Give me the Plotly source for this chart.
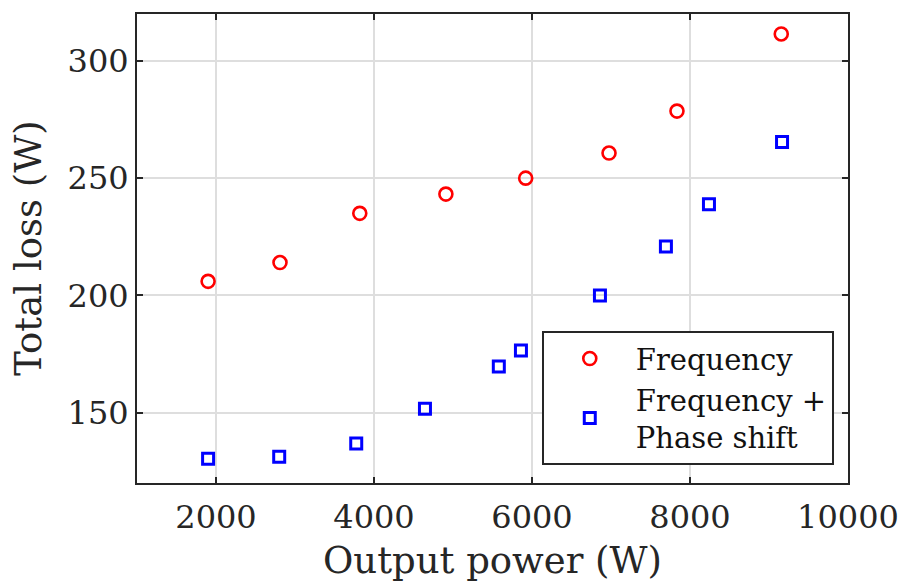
import plotly.graph_objects as go

freq_x = [1900, 2810, 3820, 4910, 5920, 6975, 7835, 9155]
freq_y = [206, 214, 235, 243.2, 250, 260.7, 278.6, 311.5]

fps_x = [1900, 2800, 3775, 4645, 5580, 5860, 6860, 7695, 8240, 9165]
fps_y = [130.3, 131.2, 136.8, 151.7, 169.7, 176.5, 200, 220.9, 238.9, 265.4]

x_ticks = [2000, 4000, 6000, 8000, 10000]
x_ticklabels = ["2000", "4000", "6000", "8000", "10000"]
y_ticks = [150, 200, 250, 300]

FONT = "DejaVu Serif"
AX = "#262626"

fig = go.Figure()
fig.add_trace(go.Scatter(
    x=freq_x, y=freq_y, mode="markers", name="Frequency",
    marker=dict(symbol="circle-open", size=13, color="#ff0000",
                line=dict(width=2.6, color="#ff0000")),
))
fig.add_trace(go.Scatter(
    x=fps_x, y=fps_y, mode="markers", name="Frequency +<br>Phase shift",
    marker=dict(symbol="square-open", size=11, color="#0000ff",
                line=dict(width=3, color="#0000ff")),
))

axis_common = dict(
    showline=True, linecolor=AX, linewidth=2, mirror="allticks",
    ticks="inside", ticklen=6, tickwidth=2, tickcolor=AX,
    showgrid=True, gridcolor="#dedede", gridwidth=2,
    zeroline=False, automargin=False,
    tickfont=dict(family=FONT, size=32, color=AX),
)

fig.update_xaxes(range=[1000, 10000], tickvals=x_ticks, ticktext=x_ticklabels,
                 ticklabelstandoff=5,
                 title=dict(text="Output power (W)", font=dict(family=FONT, size=37, color=AX), standoff=12),
                 **axis_common)
fig.update_yaxes(range=[120, 320], tickvals=y_ticks, **axis_common)

fig.add_annotation(
    text="Total loss (W)", textangle=-90, showarrow=False,
    xref="paper", yref="paper", x=-0.153, y=0.5, xanchor="center", yanchor="middle",
    font=dict(family=FONT, size=37, color=AX),
)

fig.update_layout(
    width=907, height=585,
    margin=dict(l=137, r=59, t=14, b=102),
    plot_bgcolor="white", paper_bgcolor="white",
    showlegend=True,
    legend=dict(
        x=0.98, y=0.038, xanchor="right", yanchor="bottom",
        bgcolor="white", bordercolor=AX, borderwidth=2,
        font=dict(family=FONT, size=29, color="#111111"),
        itemwidth=82, tracegroupgap=0,
    ),
)

fig.write_html("out.html", config={"displayModeBar": False},
               post_script="document.body.style.margin='0';")
